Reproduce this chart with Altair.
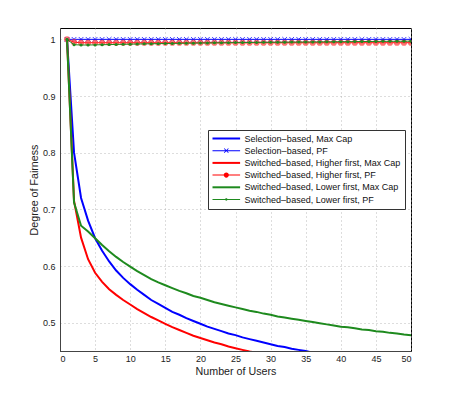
import altair as alt
import pandas as pd

users = list(range(1, 51))

sel_maxcap = [1.000, 0.800, 0.720, 0.680, 0.649, 0.627, 0.608, 0.592, 0.579, 0.568,
              0.558, 0.549, 0.540, 0.533, 0.526, 0.519, 0.514, 0.508, 0.503, 0.498,
              0.493, 0.489, 0.485, 0.481, 0.478, 0.474, 0.471, 0.468, 0.465, 0.462,
              0.459, 0.457, 0.454, 0.452, 0.450, 0.447, 0.445, 0.443, 0.441, 0.439,
              0.437, 0.435, 0.433, 0.431, 0.429, 0.427, 0.425, 0.424, 0.422, 0.420]
sel_pf = [1.000, 1.000, 1.000, 1.000, 1.000, 1.000, 1.000, 1.000, 1.000, 1.000,
          1.000, 1.000, 1.000, 1.000, 1.000, 1.000, 1.000, 1.000, 1.000, 1.000,
          1.000, 1.000, 1.000, 1.000, 1.000, 1.000, 1.000, 1.000, 1.000, 1.000,
          1.000, 1.000, 1.000, 1.000, 1.000, 1.000, 1.000, 1.000, 1.000, 1.000,
          1.000, 1.000, 1.000, 1.000, 1.000, 1.000, 1.000, 1.000, 1.000, 1.000]
high_maxcap = [1.000, 0.715, 0.650, 0.612, 0.588, 0.572, 0.559, 0.549, 0.540, 0.532,
               0.524, 0.517, 0.510, 0.504, 0.498, 0.492, 0.487, 0.482, 0.477, 0.473,
               0.469, 0.465, 0.462, 0.458, 0.455, 0.452, 0.449, 0.447, 0.444, 0.441,
               0.439, 0.437, 0.434, 0.432, 0.430, 0.428, 0.426, 0.424, 0.423, 0.421,
               0.419, 0.418, 0.416, 0.415, 0.413, 0.412, 0.411, 0.409, 0.408, 0.407]
high_pf = [1.000, 0.995, 0.994, 0.994, 0.994, 0.994, 0.994, 0.994, 0.994, 0.994,
           0.994, 0.994, 0.994, 0.994, 0.994, 0.994, 0.994, 0.994, 0.994, 0.994,
           0.994, 0.994, 0.994, 0.994, 0.994, 0.994, 0.994, 0.994, 0.994, 0.994,
           0.994, 0.994, 0.994, 0.994, 0.994, 0.994, 0.994, 0.994, 0.994, 0.994,
           0.994, 0.994, 0.994, 0.994, 0.994, 0.994, 0.994, 0.994, 0.994, 0.994]
low_maxcap = [1.000, 0.712, 0.671, 0.661, 0.649, 0.637, 0.626, 0.616, 0.607, 0.599,
              0.591, 0.584, 0.577, 0.571, 0.566, 0.561, 0.556, 0.552, 0.547, 0.544,
              0.540, 0.536, 0.533, 0.530, 0.527, 0.524, 0.521, 0.519, 0.516, 0.514,
              0.511, 0.509, 0.507, 0.505, 0.503, 0.501, 0.499, 0.497, 0.495, 0.493,
              0.492, 0.490, 0.488, 0.487, 0.485, 0.484, 0.482, 0.481, 0.479, 0.478]
low_pf = [1.000, 0.9905, 0.9900, 0.9900, 0.9902, 0.9905, 0.9907, 0.9910, 0.9912, 0.9915,
          0.9917, 0.9920, 0.9922, 0.9924, 0.9926, 0.9928, 0.9930, 0.9932, 0.9933, 0.9935,
          0.9936, 0.9938, 0.9939, 0.9940, 0.9942, 0.9943, 0.9944, 0.9946, 0.9947, 0.9948,
          0.9949, 0.9950, 0.9951, 0.9952, 0.9953, 0.9954, 0.9955, 0.9956, 0.9957, 0.9958,
          0.9959, 0.9960, 0.9961, 0.9962, 0.9963, 0.9964, 0.9965, 0.9966, 0.9967, 0.9968]

names = ["Selection–based, Max Cap",
         "Selection–based, PF",
         "Switched–based, Higher first, Max Cap",
         "Switched–based, Higher first, PF",
         "Switched–based, Lower first, Max Cap",
         "Switched–based, Lower first, PF"]
BLUE, RED, GREEN = "#0000ff", "#ff0000", "#1e8a1e"
colors = [BLUE, BLUE, RED, RED, GREEN, GREEN]
widths = [2, 1, 2, 1, 2, 1]
series_vals = [sel_maxcap, sel_pf, high_maxcap, high_pf, low_maxcap, low_pf]

rows = []
for n, vals in zip(names, series_vals):
    assert len(vals) == len(users), n
    for u, v in zip(users, vals):
        rows.append({"users": u, "fair": v, "series": n})
df = pd.DataFrame(rows)

FONT = "Liberation Sans"
GRID = dict(grid=True, gridDash=[1, 3], gridColor="#a8a8a8", gridWidth=0.8)
X = alt.X("users:Q",
          scale=alt.Scale(domain=[0, 50], nice=False, zero=False),
          axis=alt.Axis(values=list(range(0, 51, 5)), title="Number of Users",
                        ticks=False, labelFontSize=9, titleFontSize=10.7,
                        labelPadding=3, titlePadding=3, domainColor="#444",
                        labelColor="#222", titleColor="#222", titleFontWeight="normal",
                        labelFont=FONT, titleFont=FONT, **GRID))
Y = alt.Y("fair:Q",
          scale=alt.Scale(domain=[0.45, 1.02], nice=False, zero=False),
          axis=alt.Axis(values=[0.5, 0.6, 0.7, 0.8, 0.9, 1.0], title="Degree of Fairness",
                        labelExpr="datum.value == 1 ? '1' : format(datum.value, '.1f')",
                        ticks=False, labelFontSize=9, titleFontSize=10.7,
                        labelPadding=5, titlePadding=3, domainColor="#444",
                        labelColor="#222", titleColor="#222", titleFontWeight="normal",
                        labelFont=FONT, titleFont=FONT, **GRID))

base = alt.Chart(df)
layers = []
for n, c, w in zip(names, colors, widths):
    layers.append(base.transform_filter(alt.datum.series == n)
                  .mark_line(color=c, strokeWidth=w, clip=True)
                  .encode(x=X, y=Y))

# markers for PF curves
layers.insert(2, base.transform_filter(alt.datum.series == names[1])
              .mark_point(shape="M-1,-1L1,1M-1,1L1,-1", color=BLUE, size=22,
                          strokeWidth=1, opacity=0.75, clip=True)
              .encode(x=X, y=Y))
layers.insert(5, base.transform_filter(alt.datum.series == names[3])
              .mark_point(shape="circle", filled=True, color="#ff3b3b", size=38,
                          opacity=0.7, clip=True)
              .encode(x=X, y=Y))
layers.append(base.transform_filter(alt.datum.series == names[5])
              .mark_point(shape="circle", filled=True, color=GREEN, size=9,
                          opacity=1, clip=True)
              .encode(x=X, y=Y))

# legend symbols (unit = 4 px with symbolSize 64)
L0, L1 = -1.0, 5.9
CX = (L0 + L1) / 2
def bar(t):
    return f"M{L0},{-t}H{L1}V{t}H{L0}Z"
def xmark(d=0.6, w=0.14):
    return (f"M{CX-d},{-d+w}L{CX-d+w},{-d}L{CX+d},{d-w}L{CX+d-w},{d}Z"
            f"M{CX-d},{d-w}L{CX+d-w},{-d}L{CX+d},{-d+w}L{CX-d+w},{d}Z")
def circ(r):
    return f"M{CX+r},0A{r},{r} 0 1 1 {CX-r},0A{r},{r} 0 1 1 {CX+r},0Z"
thick, thin = 0.25, 0.125
paths = [bar(thick),
         bar(thin) + xmark(),
         bar(thick),
         bar(thin) + circ(0.65),
         bar(thick),
         bar(thin) + circ(0.3)]

leg = alt.Legend(title=None, orient="none", legendX=148, legendY=102,
                 padding=4, strokeColor="#333", fillColor="white",
                 labelFont=FONT, labelFontSize=9, labelColor="#111",
                 labelOffset=23.6, labelLimit=400, symbolSize=64,
                 symbolStrokeWidth=0, symbolOpacity=1, rowPadding=2.2)

legend_layer = (base.transform_filter("false")
                .mark_point(filled=True, opacity=1)
                .encode(x=X, y=Y,
                        color=alt.Color("series:N", scale=alt.Scale(domain=names, range=colors), legend=leg),
                        shape=alt.Shape("series:N", scale=alt.Scale(domain=names, range=paths), legend=leg)))
layers.append(legend_layer)

chart = (alt.layer(*layers)
         .properties(width=351, height=323,
                     padding={"left": 20, "top": 20, "right": 5, "bottom": 5})
         .configure(font=FONT, background="white")
         .configure_view(stroke="#000", strokeWidth=1))

chart.save("out.html", embed_options={"renderer": "svg", "actions": False})
